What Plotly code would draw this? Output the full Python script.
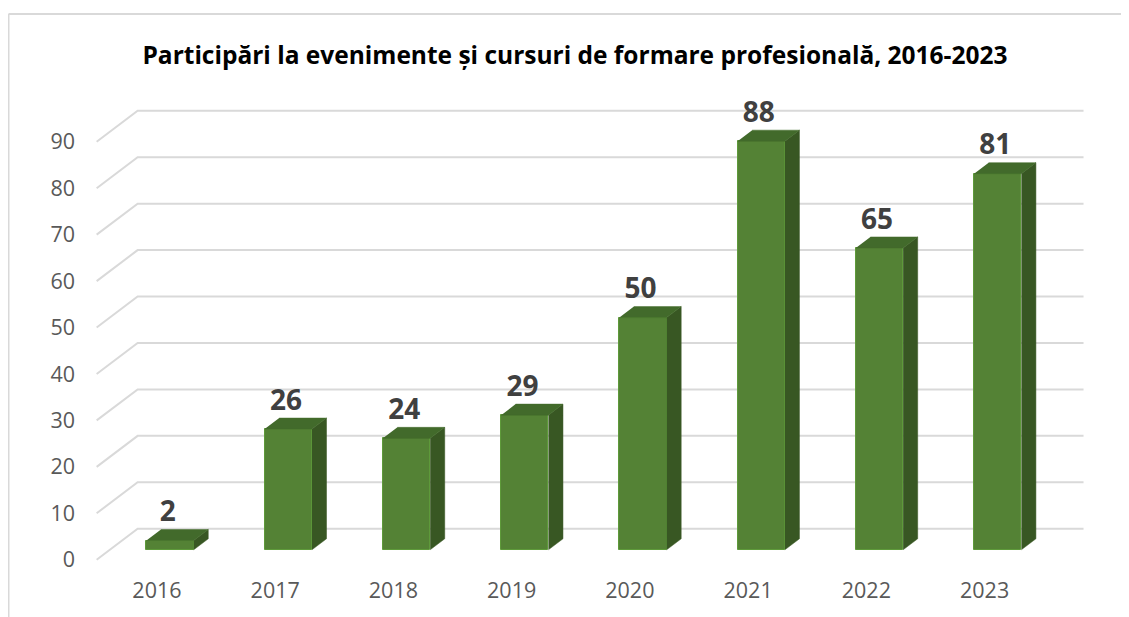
import plotly.graph_objects as go

# ---- data ----
years = ["2016", "2017", "2018", "2019", "2020", "2021", "2022", "2023"]
values = [2, 26, 24, 29, 50, 88, 65, 81]
y_ticks = [0, 10, 20, 30, 40, 50, 60, 70, 80, 90]
title_text = "Participări la evenimente și cursuri de formare profesională, 2016-2023"

# ---- geometry (page has an 8px body margin) ----
W, H = 1121, 609
ML, MR, MT, MB = 78, 38, 92, 48
XA, XB = -0.6, 7.9
YA, YB = -2, 99
px_x = (W - ML - MR) / (XB - XA)
px_y = (H - MT - MB) / (YB - YA)
DX = 41 / px_x   # full depth offset in x units
DY = 31 / px_y   # full depth offset in y units
bar_d0, bar_d1 = 0.32, 0.675
half_w = 0.2
wall_left, wall_right = -0.51, 7.49

FRONT = "#548235"
SIDE = "#385723"
TOP = "#426a2b"
GRID = "#d9d9d9"

fig = go.Figure()

# gridlines (floor diagonal + back wall), drawn below traces
for v in y_ticks:
    fig.add_shape(type="path", xref="x", yref="y", layer="below",
                  path=f"M {wall_left},{v} L {wall_left + DX},{v + DY} L {wall_right + DX},{v + DY}",
                  line=dict(color=GRID, width=2))

xs = list(range(len(years)))
fx = [i + bar_d0 * DX for i in xs]
base = bar_d0 * DY
ddx = (bar_d1 - bar_d0) * DX
ddy = (bar_d1 - bar_d0) * DY

# front faces
fig.add_trace(go.Bar(x=fx, y=values, base=base, width=2 * half_w,
                     marker=dict(color=FRONT, line=dict(width=1, color="#5e9a3a")),
                     showlegend=False, hoverinfo="skip"))

# side faces
sx, sy = [], []
for c, v in zip(fx, values):
    xr = c + half_w
    sx += [xr, xr + ddx, xr + ddx, xr, None]
    sy += [base, base + ddy, base + v + ddy, base + v, None]
fig.add_trace(go.Scatter(x=sx, y=sy, mode="lines", fill="toself", fillcolor=SIDE,
                         line=dict(width=0.5, color=SIDE), hoverinfo="skip", showlegend=False))

# top faces
tx, ty = [], []
for c, v in zip(fx, values):
    xl, xr = c - half_w, c + half_w
    t = base + v
    tx += [xl, xr, xr + ddx, xl + ddx, None]
    ty += [t, t, t + ddy, t + ddy, None]
fig.add_trace(go.Scatter(x=tx, y=ty, mode="lines", fill="toself", fillcolor=TOP,
                         line=dict(width=0.5, color=TOP), hoverinfo="skip", showlegend=False))

# data labels
fig.add_trace(go.Scatter(x=[c - 0.02 for c in fx], y=[base + v + ddy + 3.3 for v in values],
                         mode="text", text=[str(v) for v in values],
                         textposition="middle center",
                         textfont=dict(family="Open Sans", size=28, color="#404040", weight="bold"),
                         hoverinfo="skip", showlegend=False))

# outer frame (left + top)
pw = W - ML - MR
ph = H - MT - MB
lx = (0.5 - ML) / pw
ty_frame = (H - MB - 6) / ph
fig.add_shape(type="line", xref="paper", yref="paper", x0=lx, x1=lx, y0=(-MB) / ph, y1=ty_frame,
              line=dict(color=GRID, width=2))
fig.add_shape(type="line", xref="paper", yref="paper", x0=lx, x1=(W - ML) / pw, y0=ty_frame, y1=ty_frame,
              line=dict(color=GRID, width=2))

fig.update_layout(
    width=W, height=H,
    margin=dict(l=ML, r=MR, t=MT, b=MB),
    paper_bgcolor="white", plot_bgcolor="white",
    title=dict(text=title_text, x=567 / W, xanchor="center", y=1 - 47 / H, yanchor="middle",
               yref="container", xref="container",
               font=dict(family="Open Sans", size=24.5, color="black", weight="bold")),
    xaxis=dict(range=[XA, XB], tickvals=xs, ticktext=years, showgrid=False, zeroline=False,
               showline=False, ticks="", ticklabelstandoff=6,
               tickfont=dict(family="Open Sans", size=21.5, color="#595959")),
    yaxis=dict(range=[YA, YB], tickvals=y_ticks, showgrid=False, zeroline=False,
               showline=False, ticks="", ticklabelstandoff=10,
               tickfont=dict(family="Open Sans", size=21.5, color="#595959")),
    bargap=0,
)

fig.write_html("out.html")
